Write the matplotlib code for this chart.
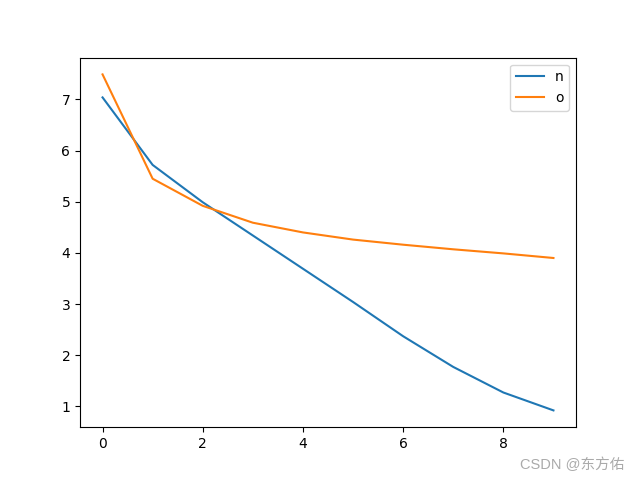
import matplotlib
matplotlib.use("Agg")
import matplotlib.pyplot as plt

x = list(range(10))
n = [7.04, 5.72, 4.99, 4.34, 3.69, 3.04, 2.37, 1.77, 1.27, 0.92]
o = [7.49, 5.45, 4.92, 4.59, 4.40, 4.26, 4.16, 4.07, 3.99, 3.90]

fig, ax = plt.subplots(figsize=(6.4, 4.8), dpi=100)
ax.plot(x, n, label="n")
ax.plot(x, o, label="o")
ax.legend()
fig.text(624/640, 1 - 465/480, "CSDN @东方佑", ha="right", va="center",
         fontsize=10.5, color="#aaaaaa", family=["Liberation Sans", "Noto Sans CJK SC"])
fig.savefig("out.png", dpi=100)
